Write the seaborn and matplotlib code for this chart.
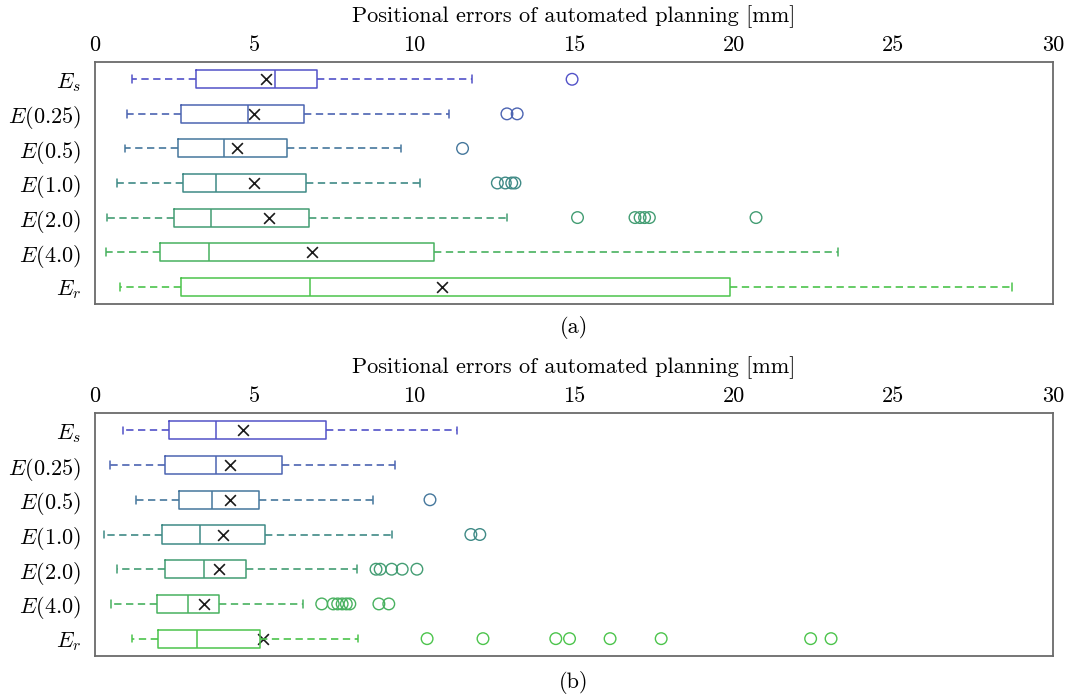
import matplotlib
matplotlib.use("Agg")
import matplotlib.pyplot as plt
import numpy as np
import pandas as pd
import seaborn as sns

# ---- data -------------------------------------------------------------
methods = [r"$E_s$", r"$E(0.25)$", r"$E(0.5)$", r"$E(1.0)$",
           r"$E(2.0)$", r"$E(4.0)$", r"$E_r$"]

# panel (a)
a_whislo = [1.15, 1.01, 0.94, 0.68, 0.38, 0.34, 0.79]
a_q1     = [3.17, 2.70, 2.61, 2.75, 2.46, 2.04, 2.68]
a_med    = [5.63, 4.78, 4.04, 3.78, 3.63, 3.58, 6.72]
a_q3     = [6.94, 6.55, 6.01, 6.60, 6.71, 10.62, 19.87]
a_whishi = [11.80, 11.07, 9.58, 10.19, 12.90, 23.27, 28.72]
a_mean   = [5.36, 4.97, 4.45, 4.97, 5.46, 6.79, 10.87]
a_fliers = [[14.94],
            [12.90, 13.22],
            [11.51],
            [12.60, 12.85, 13.05, 13.15],
            [15.11, 16.91, 17.07, 17.21, 17.36, 20.70],
            [],
            []]

# panel (b)
b_whislo = [0.87, 0.46, 1.28, 0.27, 0.68, 0.49, 1.15]
b_q1     = [2.32, 2.19, 2.63, 2.09, 2.19, 1.93, 1.97]
b_med    = [3.80, 3.78, 3.67, 3.28, 3.41, 2.91, 3.20]
b_q3     = [7.23, 5.85, 5.14, 5.33, 4.72, 3.88, 5.17]
b_whishi = [11.34, 9.38, 8.72, 9.31, 8.21, 6.50, 8.23]
b_mean   = [4.62, 4.24, 4.22, 4.02, 3.89, 3.40, 5.25]
b_fliers = [[],
            [],
            [10.49],
            [11.77, 12.05],
            [8.80, 8.93, 9.29, 9.62, 10.08],
            [7.10, 7.46, 7.60, 7.74, 7.87, 7.98, 8.89, 9.20],
            [10.40, 12.15, 14.43, 14.86, 16.13, 17.73, 22.41, 23.05]]

x_ticks = [0, 5, 10, 15, 20, 25, 30]
x_label = "Positional errors of automated planning [mm]"
captions = ["(a)", "(b)"]

# ---- style ------------------------------------------------------------
sns.set_theme(style="white")
plt.rcParams["font.family"] = ["cmr10"]
plt.rcParams["mathtext.fontset"] = "cm"
plt.rcParams["axes.formatter.use_mathtext"] = True
plt.rcParams["axes.unicode_minus"] = False
plt.rcParams["text.color"] = "black"
plt.rcParams["axes.labelcolor"] = "black"
plt.rcParams["xtick.color"] = "black"
plt.rcParams["ytick.color"] = "black"

palette = sns.blend_palette(["#5252c8", "#3f8a86", "#4cc44c"], len(methods))


def draw_panel(ax, whislo, q1, med, q3, whishi, mean, fliers):
    positions = np.arange(len(methods))
    stats = [dict(whislo=whislo[i], q1=q1[i], med=med[i], q3=q3[i],
                  whishi=whishi[i], fliers=[]) for i in positions]
    for i, st in enumerate(stats):
        c = palette[i]
        ax.bxp([st], positions=[i], widths=0.52, capwidths=0.22, vert=False,
               showfliers=False, manage_ticks=False,
               boxprops=dict(color=c, linewidth=1.1),
               medianprops=dict(color=c, linewidth=1.1),
               whiskerprops=dict(color=c, linewidth=1.2, linestyle=(0, (4.4, 2.7))),
               capprops=dict(color=c, linewidth=1.1))

    # outliers as open circles
    rows = [(methods[i], i, v) for i, fl in enumerate(fliers) for v in fl]
    df_out = pd.DataFrame(rows, columns=["method", "pos", "value"])
    before = len(ax.collections)
    sns.scatterplot(data=df_out, x="value", y="pos", hue="method",
                    hue_order=methods, palette=palette, marker="o", s=70,
                    linewidth=1.0, legend=False, ax=ax)
    for coll in ax.collections[before:]:
        fc = coll.get_facecolors()
        coll.set_edgecolors(fc)
        coll.set_facecolors("none")

    # means
    df_mean = pd.DataFrame({"value": mean, "pos": positions})
    sns.scatterplot(data=df_mean, x="value", y="pos", marker="x", color="#1a1a1a",
                    s=60, linewidth=1.2, legend=False, ax=ax)

    ax.set_xlim(0, 30)
    ax.set_ylim(len(methods) - 0.5, -0.5)
    ax.set_yticks(positions)
    ax.set_yticklabels(methods, fontsize=16)
    ax.set_xticks(x_ticks)
    ax.set_xticklabels([str(t) for t in x_ticks], fontsize=16)
    ax.xaxis.tick_top()
    ax.xaxis.set_label_position("top")
    ax.set_xlabel(x_label, fontsize=16, labelpad=10)
    ax.set_ylabel("")
    ax.tick_params(axis="y", length=0, pad=10)
    ax.tick_params(axis="x", length=0, pad=5)
    for sp in ax.spines.values():
        sp.set_visible(True)
        sp.set_color("#6a6a6a")
        sp.set_linewidth(1.3)


fig = plt.figure(figsize=(10.67, 6.98), dpi=100)
W, H = 1067, 698
left, right = 95, 1053
ax_a = fig.add_axes([left / W, 1 - 304 / H, (right - left) / W, (304 - 62) / H])
ax_b = fig.add_axes([left / W, 1 - 656 / H, (right - left) / W, (656 - 413) / H])

draw_panel(ax_a, a_whislo, a_q1, a_med, a_q3, a_whishi, a_mean, a_fliers)
draw_panel(ax_b, b_whislo, b_q1, b_med, b_q3, b_whishi, b_mean, b_fliers)

cx = (left + right) / 2 / W
fig.text(cx, 1 - 327 / H, captions[0], ha="center", va="center", fontsize=16)
fig.text(cx, 1 - 683 / H, captions[1], ha="center", va="center", fontsize=16)

fig.savefig("out.png", dpi=100)
